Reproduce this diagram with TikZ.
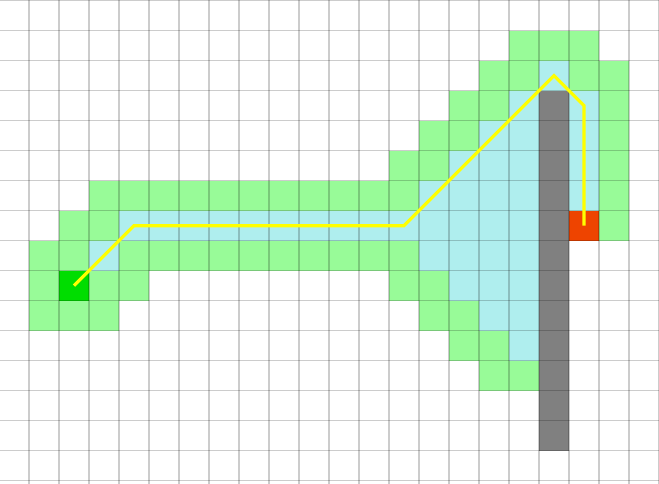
\documentclass[tikz,border=0pt]{standalone}
\definecolor{cgreen}{RGB}{152,251,152}
\definecolor{ccyan}{RGB}{175,238,238}
\definecolor{cgray}{RGB}{128,128,128}
\definecolor{cstart}{RGB}{0,221,0}
\definecolor{cgoal}{RGB}{238,68,0}
\definecolor{cpath}{RGB}{255,255,0}
\newcommand\gridcell[3]{\fill[#3] ({30*#1-1},{30*#2+0.7}) rectangle ++(30,30);}
\tikzset{
  gridline/.style={draw=black,draw opacity=0.2,line width=1.4},
  pathline/.style={draw=cpath,line width=3.2,line join=miter}
}
\begin{document}
\begin{tikzpicture}[x=1pt,y=-1pt]
\useasboundingbox (0,0) rectangle (659,484);
\fill[white] (0,0) rectangle (659,484);
% green cells
\foreach \c/\r in {17/1,18/1,19/1,
  16/2,17/2,19/2,20/2,
  15/3,16/3,20/3,
  14/4,15/4,20/4,
  13/5,14/5,20/5,
  3/6,4/6,5/6,6/6,7/6,8/6,9/6,10/6,11/6,12/6,13/6,20/6,
  2/7,3/7,20/7,
  1/8,2/8,4/8,5/8,6/8,7/8,8/8,9/8,10/8,11/8,12/8,13/8,
  1/9,3/9,4/9,13/9,14/9,
  1/10,2/10,3/10,14/10,15/10,
  15/11,16/11,
  16/12,17/12}
  {\gridcell{\c}{\r}{cgreen}}
% cyan cells
\foreach \c/\r in {18/2,
  17/3,19/3,
  16/4,17/4,19/4,
  15/5,16/5,17/5,19/5,
  14/6,15/6,16/6,17/6,19/6,
  4/7,5/7,6/7,7/7,8/7,9/7,10/7,11/7,12/7,13/7,14/7,15/7,16/7,17/7,
  3/8,14/8,15/8,16/8,17/8,
  15/9,16/9,17/9,
  16/10,17/10,
  17/11}
  {\gridcell{\c}{\r}{ccyan}}
% wall
\foreach \r in {3,...,14} {\gridcell{18}{\r}{cgray}}
% start and goal
\gridcell{2}{9}{cstart}
\gridcell{19}{7}{cgoal}
% grid
\foreach \i in {0,...,22} {\draw[gridline] ({30*\i-1},0) -- ({30*\i-1},484);}
\foreach \j in {0,...,16} {\draw[gridline] (0,{30*\j+0.7}) -- (659,{30*\j+0.7});}
% path
\coordinate (p0) at (74,285.7);
\coordinate (p1) at (134,225.7);
\coordinate (p2) at (404,225.7);
\coordinate (p3) at (554,75.7);
\coordinate (p4) at (584,105.7);
\coordinate (p5) at (584,225.7);
\draw[pathline] (p0) -- (p1) -- (p2) -- (p3) -- (p4) -- (p5);
\end{tikzpicture}
\end{document}
